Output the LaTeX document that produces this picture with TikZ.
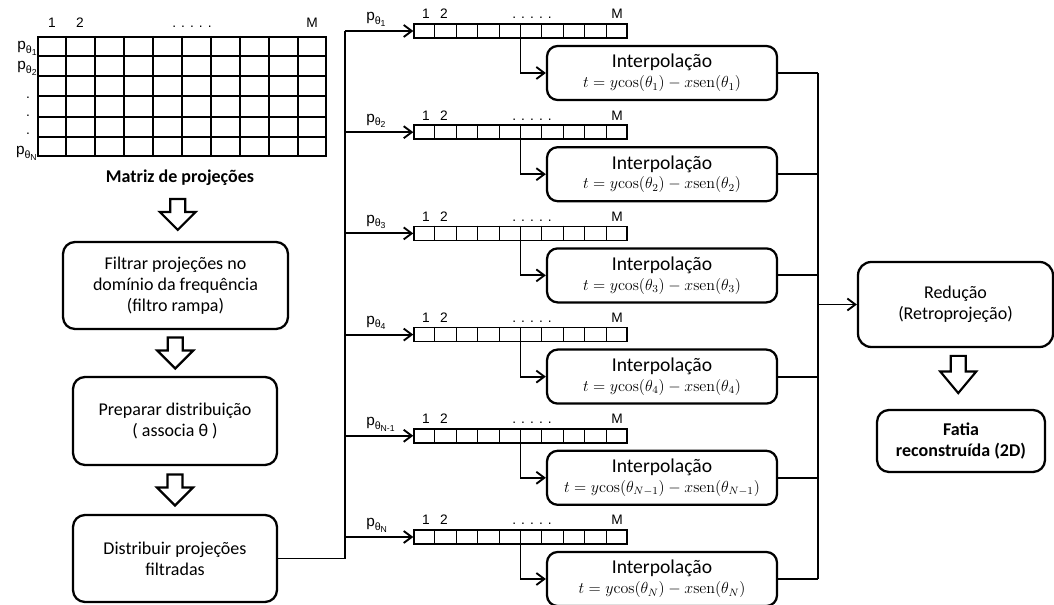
\documentclass[tikz,border=0pt]{standalone}
\usepackage[no-math]{fontspec}
\setmainfont{Carlito}
\newfontfamily\arialf{Liberation Sans}
\usetikzlibrary{arrows.meta,calc}

% one drawing unit = one pixel of the layout grid
\newcommand{\pxu}{0.75pt}
% p with a two-level subscript, e.g. p_{theta_1}
\newcommand{\ptheta}[1]{p\raisebox{-0.4ex}{\fontsize{8}{8}\selectfont θ\raisebox{-0.35ex}{\fontsize{6.5}{6.5}\selectfont #1}}}

\begin{document}
\begin{tikzpicture}[x=0.75pt,y=-0.75pt,
  box/.style={draw, line width=1.7pt, rounded corners=9pt, align=center, inner sep=0pt,
    font=\fontsize{13.5}{15.8}\selectfont},
  interp/.style={box, rounded corners=8pt, minimum width=230*\pxu, minimum height=54*\pxu},
  strip/.style={draw, line width=1.1pt, inner sep=0pt, minimum width=213*\pxu, minimum height=14*\pxu},
  cell/.style={line width=0.75pt},
  num/.style={font=\arialf\fontsize{10.3}{11}\selectfont, inner sep=0pt, anchor=base},
  plabel/.style={font=\arialf\fontsize{11.5}{12}\selectfont, inner sep=0pt},
  conn/.style={line width=1.4pt},
  tip/.style={-{Straight Barb[length=6pt,width=9pt,line width=1.4pt]}},
  hollow/.pic={\draw[line width=1.6pt, line join=miter]
    (-7.5,-15.5) -- (7.5,-15.5) -- (7.5,-2.5) -- (18,-2.5) -- (0,15.5)
    -- (-18,-2.5) -- (-7.5,-2.5) -- cycle;}
]
\useasboundingbox (0,0) rectangle (1054,605);

% ---------- projection matrix ----------
\node[draw, line width=1.5pt, minimum width=288*\pxu, minimum height=119*\pxu, inner sep=0pt] (mat) at (182,96.5) {};
\foreach \j in {1,...,9}
  \draw[line width=0.9pt] ($(mat.north west)!\j/10!(mat.north east)$) -- ($(mat.south west)!\j/10!(mat.south east)$);
\foreach \k in {1,...,5}
  \draw[line width=1.5pt] ($(mat.north west)!\k/6!(mat.south west)$) -- ($(mat.north east)!\k/6!(mat.south east)$);
\node[num] (mc1) at (52,28) {1};
\node[num] (mc2) at (80,28) {2};
\node[num] (mcd) at (192,28) {. . . . .};
\node[num] (mcM) at (312,28) {M};
\node[plabel, anchor=base east] (mr1) at (37,50) {\ptheta{1}};
\node[plabel, anchor=base east] (mr2) at (37,70) {\ptheta{2}};
\node[num] (md1) at (28,99) {.};
\node[num] (md2) at (28,117) {.};
\node[num] (md3) at (28,135) {.};
\node[plabel, anchor=base east] (mrN) at (37,155) {\ptheta{N}};
\node[font=\bfseries\fontsize{13.5}{16}\selectfont, inner sep=0pt] (matlbl) at (180,178) {Matriz de projeções};

% ---------- left column ----------
\node[box, minimum width=225*\pxu, minimum height=87*\pxu] (b1) at (175.5,285.5)
  {Filtrar projeções no\\domínio da frequência\\(filtro rampa)};
\node[box, minimum width=204*\pxu, minimum height=88*\pxu] (b2) at (175,421)
  {Preparar distribuição\\( associa θ )};
\node[box, minimum width=204*\pxu, minimum height=87*\pxu] (b3) at (175,558.5)
  {Distribuir projeções\\filtradas};

\path ($(matlbl.south)!0.5!(b1.north)$) ++(0,1) pic {hollow};
\path ($(b1.south)!0.5!(b2.north)$) pic {hollow};
\path ($(b2.south)!0.5!(b3.north)$) pic {hollow};

% ---------- buses ----------
\coordinate (lbus) at (345,0);
\coordinate (rbus) at (818,0);

% ---------- projection rows and interpolation ----------
\foreach \i/\s/\m in {1/1/1, 2/2/2, 3/3/3, 4/4/4, 5/N-1/{N-1}, 6/N/N} {
  \pgfmathsetmacro{\ys}{31+101.2*(\i-1)}
  \pgfmathsetmacro{\yi}{73+101.2*(\i-1)}
  \node[strip] (s\i) at (520.5,\ys) {};
  \foreach \j in {1,...,9}
    \draw[cell] ($(s\i.north west)!\j/10!(s\i.north east)$) -- ($(s\i.south west)!\j/10!(s\i.south east)$);
  \node[num] (n1\i) at (426,\ys-12) {1};
  \node[num] (n2\i) at (444,\ys-12) {2};
  \node[num] (nd\i) at (532,\ys-12) {. . . . .};
  \node[num] (nM\i) at (617,\ys-12) {M};
  \node[plabel, anchor=base west] (p\i) at (366,\ys-10) {\ptheta{\s}};
  \node[interp] (i\i) at (662,\yi)
    {{\fontsize{14.7}{17}\selectfont Interpolação}\\[-1pt]
     {\fontsize{12}{14}\selectfont $t = y\mathrm{cos}(\theta_{\m}) - x\mathrm{sen}(\theta_{\m})$}};
  \draw[conn, tip] (s\i.west -| lbus) -- (s\i.west);
  \draw[conn, tip] (s\i.south) |- (i\i.west);
  \draw[conn] (i\i.east) -- (i\i.east -| rbus);
}

\draw[conn] (b3.east) -- (b3.east -| lbus) -- (s1.west -| lbus);
\draw[conn] (i1.east -| rbus) -- (i6.east -| rbus);

% ---------- reduction ----------
\node[box, rounded corners=10pt, minimum width=195*\pxu, minimum height=85*\pxu] (red) at (955.5,304.5)
  {Redução\\(Retroprojeção)};
\node[box, font=\bfseries\fontsize{13.5}{15.8}\selectfont, minimum width=168*\pxu, minimum height=62*\pxu] (fatia) at (961,441)
  {Fatia\\reconstruída (2D)};
\draw[conn, tip] (red.west -| rbus) -- (red.west);
\path ($(red.south)!0.5!(fatia.north)$) ++(0,-4) pic[yscale=1.2] {hollow};

\end{tikzpicture}
\end{document}
